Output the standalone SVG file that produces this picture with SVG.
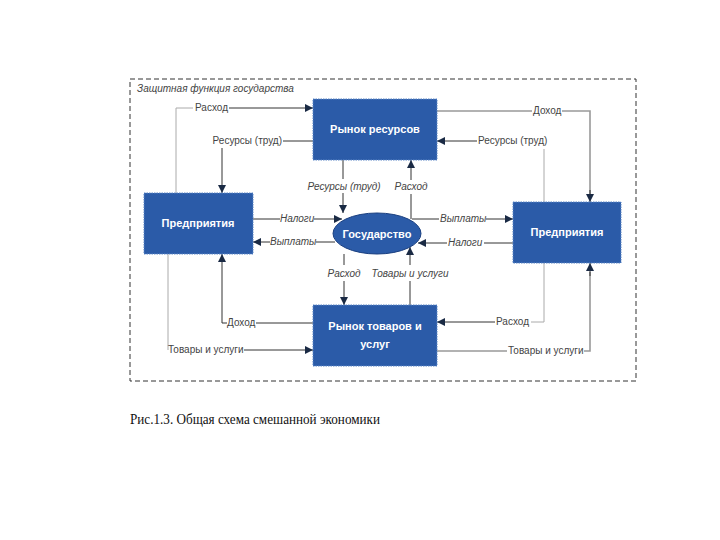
<svg xmlns="http://www.w3.org/2000/svg" width="720" height="540" viewBox="0 0 720 540">
<style>
.box{fill:#2b5ba8;stroke:#5b86c6;stroke-width:1;stroke-dasharray:1.5,1}
.bt{font-family:"Liberation Sans",Arial,sans-serif;font-size:11px;font-weight:bold;fill:#fff;text-anchor:middle}
.lb{font-family:"Liberation Sans",Arial,sans-serif;font-size:10px;fill:#444}
.it{font-style:italic}
.ln{fill:none;stroke:#333;stroke-width:1}
.lg{fill:none;stroke:#999;stroke-width:1.6}
.ll{fill:none;stroke:#aaa;stroke-width:1}
</style>
<defs>
<marker id="a" viewBox="0 0 10 10" refX="10" refY="5" markerWidth="8" markerHeight="8" markerUnits="userSpaceOnUse" orient="auto">
<path d="M0,0 L10,5 L0,10 z" fill="#1a2a44"/>
</marker>
</defs>
<rect x="0" y="0" width="720" height="540" fill="#fff"/>
<rect x="130" y="79" width="506" height="302" fill="none" stroke="#333" stroke-width="1" stroke-dasharray="5,3"/>
<text class="lb it" x="137" y="92" fill="#555">Защитная функция государства</text>

<g id="connectors">
<!-- left top Расход -->
<path class="ll" d="M176,193 V108 H193"/>
<path class="ln" d="M229,108 H313" marker-end="url(#a)"/>
<text class="lb" x="195" y="111">Расход</text>
<!-- left Ресурсы (труд) -->
<path class="ln" d="M313,141 H283"/>
<path class="ln" d="M222,148 V193" marker-end="url(#a)"/>
<text class="lb" x="282" y="144" text-anchor="end">Ресурсы (труд)</text>
<!-- right Доход -->
<path class="lg" d="M437,111 H532"/>
<path class="lg" d="M562,111 H590 V196"/>
<path class="ln" d="M590,190 V202" marker-end="url(#a)"/>
<text class="lb" x="533" y="114">Доход</text>
<!-- right Ресурсы (труд) -->
<path class="ll" d="M544,202 V149"/>
<path class="ln" d="M477,141 H437" marker-end="url(#a)"/>
<text class="lb" x="478" y="144">Ресурсы (труд)</text>
<!-- center top Ресурсы (труд) down -->
<path class="ln" d="M343,160 V179"/>
<path class="ln" d="M343,193 V213" marker-end="url(#a)"/>
<text class="lb it" x="344" y="190" text-anchor="middle">Ресурсы (труд)</text>
<!-- center top Расход up -->
<path class="ln" d="M411,219 V194"/>
<path class="ln" d="M411,180 V160" marker-end="url(#a)"/>
<text class="lb it" x="411" y="190" text-anchor="middle">Расход</text>
<!-- left Налоги -->
<path class="ln" d="M253,219 H280"/>
<path class="ln" d="M314,219 H342" marker-end="url(#a)"/>
<text class="lb it" x="280" y="222">Налоги</text>
<!-- left Выплаты -->
<path class="ln" d="M335,242 H316"/>
<path class="ln" d="M270,242 H253" marker-end="url(#a)"/>
<text class="lb it" x="270" y="245">Выплаты</text>
<!-- right Выплаты -->
<path class="ln" d="M412,219 H439"/>
<path class="ln" d="M486,219 H513" marker-end="url(#a)"/>
<text class="lb it" x="440" y="222">Выплаты</text>
<!-- right Налоги -->
<path class="ln" d="M513,243 H484"/>
<path class="ln" d="M447,243 H418" marker-end="url(#a)"/>
<text class="lb it" x="448" y="246">Налоги</text>
<!-- center bottom Расход down -->
<path class="ln" d="M344,254 V265"/>
<path class="ln" d="M344,281 V305" marker-end="url(#a)"/>
<text class="lb it" x="344" y="277" text-anchor="middle">Расход</text>
<!-- center bottom Товары и услуги up -->
<path class="ln" d="M410,305 V281"/>
<path class="ln" d="M410,265 V247" marker-end="url(#a)"/>
<text class="lb it" x="410" y="277" text-anchor="middle">Товары и услуги</text>
<!-- left bottom Доход -->
<path class="ln" d="M313,323 H256"/>
<path class="ln" d="M227,323 H222 V254" marker-end="url(#a)"/>
<text class="lb" x="227" y="326">Доход</text>
<!-- left bottom Товары и услуги -->
<path class="ll" d="M168,254 V350"/>
<path class="ln" d="M244,350 H313" marker-end="url(#a)"/>
<text class="lb" x="168" y="353">Товары и услуги</text>
<!-- right bottom Расход -->
<path class="ll" d="M544,263 V322 H531"/>
<path class="ln" d="M495,322 H437" marker-end="url(#a)"/>
<text class="lb" x="496" y="325">Расход</text>
<!-- right bottom Товары и услуги -->
<path class="lg" d="M437,351 H507"/>
<path class="lg" d="M584,351 H590 V272"/>
<path class="ln" d="M590,276 V263" marker-end="url(#a)"/>
<text class="lb" x="508" y="354">Товары и услуги</text>
</g>

<g id="rynok-resursov">
<rect class="box" x="313" y="99" width="124" height="61"/>
<text class="bt" x="375" y="133">Рынок ресурсов</text>
</g>
<g id="rynok-tovarov">
<rect class="box" x="313" y="305" width="124" height="61"/>
<text class="bt" x="375" y="330">Рынок товаров и</text>
<text class="bt" x="375" y="348">услуг</text>
</g>
<g id="predpriyatiya-left">
<rect class="box" x="144" y="193" width="109" height="61"/>
<text class="bt" x="198" y="227">Предприятия</text>
</g>
<g id="predpriyatiya-right">
<rect class="box" x="513" y="202" width="108" height="61"/>
<text class="bt" x="567" y="236">Предприятия</text>
</g>
<g id="gosudarstvo">
<ellipse cx="377" cy="233.5" rx="44" ry="20.5" fill="#2b5ba8" stroke="#1a3f80" stroke-width="1"/>
<text class="bt" x="377" y="237.5">Государство</text>
</g>

<text x="130" y="424" font-family="'Liberation Serif','Times New Roman',serif" font-size="14.5" fill="#111" textLength="250" lengthAdjust="spacingAndGlyphs">Рис.1.3. Общая схема смешанной экономики</text>
</svg>
